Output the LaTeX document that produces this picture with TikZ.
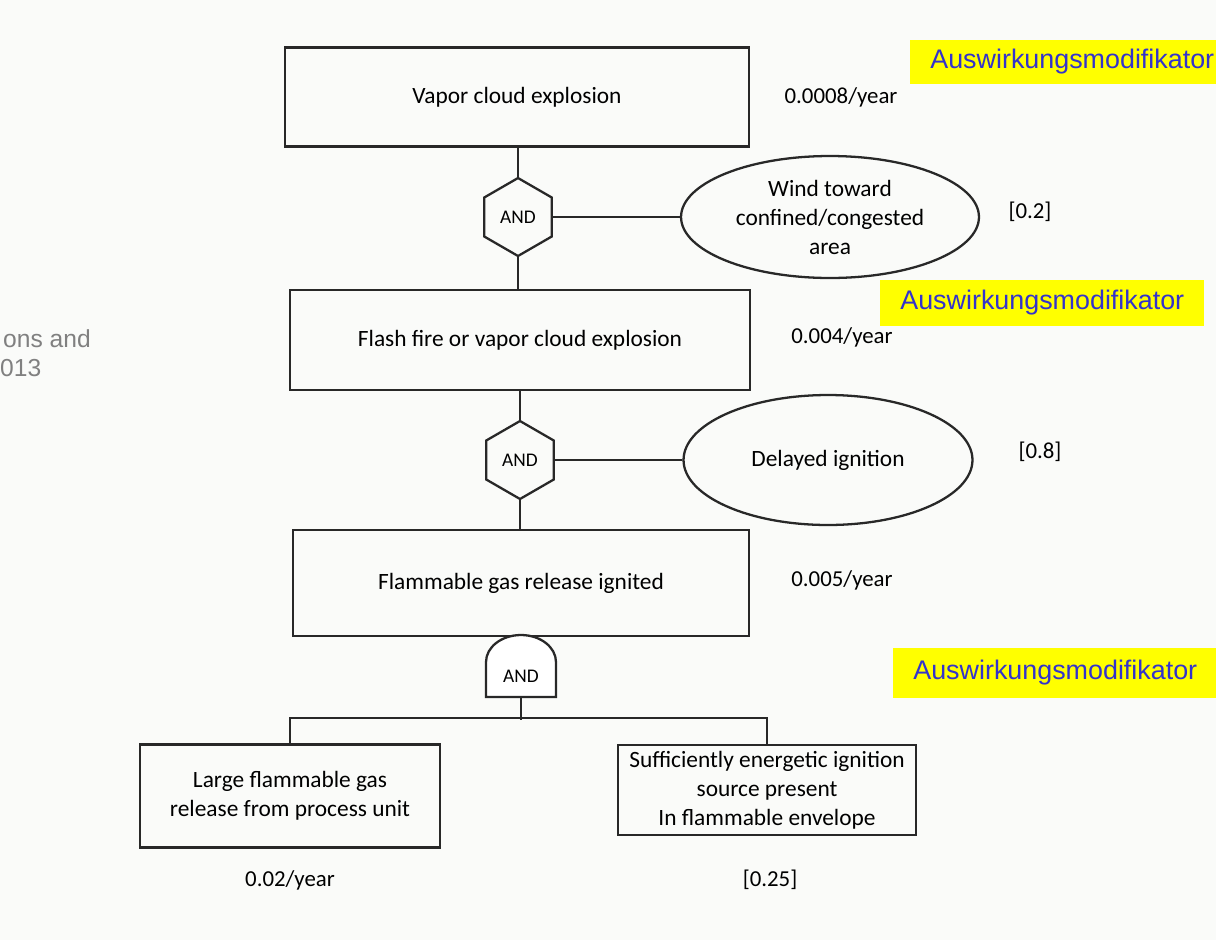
\documentclass[tikz,border=0pt]{standalone}
\usepackage{fontspec}
\setmainfont{Carlito}
\newfontfamily\arialfont{Liberation Sans}
\usetikzlibrary{shapes.geometric, positioning}
\definecolor{PaperWhite}{RGB}{250,251,249}
\definecolor{NoteYellow}{RGB}{255,255,0}
\definecolor{NoteBlue}{RGB}{51,51,204}
\definecolor{InkGrey}{RGB}{40,40,40}
\definecolor{CiteGrey}{RGB}{128,128,128}

\begin{document}
\begin{tikzpicture}[
    x=0.02cm, y=-0.02cm,
    box/.style = {draw=InkGrey, line width=1.6pt, rectangle, inner sep=2pt, align=center, font=\fontsize{13.3}{16.5}\selectfont},
    basic/.style = {box, line width=1.4pt},
    cond/.style = {draw=InkGrey, line width=1.3pt, ellipse, inner sep=0pt, align=center, font=\fontsize{13.3}{16.5}\selectfont},
    gate/.style = {draw=InkGrey, line width=1.3pt, regular polygon, regular polygon sides=6, shape border rotate=30, minimum size=1.56cm, inner sep=0pt, font=\fontsize{11}{13}\selectfont},
    value/.style = {font=\fontsize{13}{16}\selectfont},
    note/.style = {fill=NoteYellow, text=NoteBlue, anchor=west, inner xsep=0.4cm, font=\arialfont\fontsize{15.3}{18}\selectfont},
    cite/.style = {text=CiteGrey, anchor=west, font=\arialfont\fontsize{14}{17}\selectfont},
    link/.style = {draw=InkGrey, line width=1.1pt}
]
% Page and clip
\clip (0,0) rectangle (1216,940);
\fill[PaperWhite] (0,0) rectangle (1216,940);
% Events
\node[box, minimum width=9.28cm, minimum height=1.98cm] (vce) at (517,97) {Vapor cloud explosion};
\node[box, minimum width=9.2cm, minimum height=2cm] (ffe) at (520,340) {Flash fire or vapor cloud explosion};
\node[box, minimum width=9.12cm, minimum height=2.12cm] (fgi) at (521,583) {Flammable gas release ignited};
\node[basic, minimum width=6cm, minimum height=2.06cm] (lfg) at (290,796) {Large flammable gas\\release from process unit};
\node[basic, minimum width=5.96cm, minimum height=1.8cm] (sei) at (767,790) {Sufficiently energetic ignition\\source present\\In flammable envelope};
% Conditions
\node[cond, minimum width=5.96cm, minimum height=2.44cm] (wind) at (830,217) {Wind toward\\confined/congested\\area};
\node[cond, minimum width=5.78cm, minimum height=2.6cm] (delay) at (828,460) {Delayed ignition};
% Gates
\node[gate] (and1) at (518,217) {AND};
\node[gate] (and2) at (520,460) {AND};
\draw[draw=InkGrey, line width=1.3pt, fill=white] (486,697) -- (486,662) arc[start angle=180, end angle=0, x radius=0.7cm, y radius=0.54cm] -- (556,697) -- cycle;
\node[font=\fontsize{11}{13}\selectfont] (and3) at (521,676) {AND};
\coordinate (and3-base) at (521,697);
% Connectors
\draw[link] (and1.north) -- (and1.north |- vce.south);
\draw[link] (and1.south) -- (and1.south |- ffe.north);
\draw[link] (and1.east) -- (wind.west);
\draw[link] (and2.north) -- (and2.north |- ffe.south);
\draw[link] (and2.south) -- (and2.south |- fgi.north);
\draw[link] (and2.east) -- (delay.west);
\draw[link] (and3-base) -- ++(0,23);
\draw[link] (lfg.north) -- ++(0,-25) -| (sei.north);
% Frequencies and probabilities
\node[value] (f-vce) at (841,97) {0.0008/year};
\node[value] (f-ffe) at (842,337) {0.004/year};
\node[value] (f-fgi) at (842,580) {0.005/year};
\node[value] (p-wind) at (1030,212) {[0.2]};
\node[value] (p-delay) at (1040,452) {[0.8]};
\node[value] (f-lfg) at (290,880) {0.02/year};
\node[value] (p-sei) at (770,880) {[0.25]};
% Notes
\node[note, minimum height=0.9cm] (note1) at (910,62) {Auswirkungsmodifikator};
\node[note, minimum height=0.92cm] (note2) at (880,303) {Auswirkungsmodifikator};
\node[note, minimum height=1cm] (note3) at (893,673) {Auswirkungsmodifikator};
\node[cite] (cite1) at (-3,339) {ons and};
\node[cite] (cite2) at (-6,368) {013};
\end{tikzpicture}
\end{document}
